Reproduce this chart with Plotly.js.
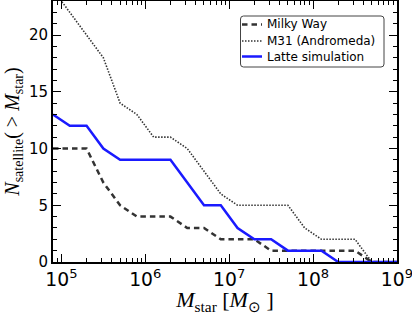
<!DOCTYPE html>
<html>
<head>
<meta charset="utf-8">
<script src="https://cdn.plot.ly/plotly-3.0.1.min.js"></script>
<style>
html,body{margin:0;padding:0;background:#fff;}
#chart{width:412px;height:315px;}
</style>
</head>
<body>
<div id="chart"></div>
<script>
// log10 of stellar mass at which the cumulative counts are evaluated
var logMass = [4.9, 5.1, 5.3, 5.5, 5.7, 5.9, 6.1, 6.3, 6.5, 6.7, 6.9, 7.1, 7.3, 7.5, 7.7, 7.9, 8.1, 8.3, 8.5, 8.7, 8.9, 9.1];
var milkyWay = [10, 10, 10, 7, 5, 4, 4, 4, 3, 3, 2, 2, 2, 1, 1, 1, 1, 1, 1, 0, 0, 0];
var m31      = [24, 22, 20, 18, 14, 13, 11, 11, 10, 8, 6, 5, 5, 5, 5, 3, 2, 2, 2, 0, 0, 0];
var latte    = [13, 12, 12, 10, 9, 9, 9, 9, 7, 5, 5, 3, 2, 2, 1, 1, 1, 0, 0, 0, 0, 0];
var seriesNames = ['Milky Way', 'M31 (Andromeda)', 'Latte simulation'];

var mass = logMass.map(function(v){ return Math.pow(10, v); });

var styles = [
  {color: '#333333', width: 2.5, dash: '5.5px,4px'},
  {color: '#333333', width: 1.6, dash: '1.5px,1.5px'},
  {color: '#1a1aff', width: 2.5, dash: 'solid'}
];
var seriesData = [milkyWay, m31, latte];

var traces = seriesData.map(function(ys, i){
  return {x: mass, y: ys, name: seriesNames[i], mode: 'lines', line: styles[i], showlegend: false};
});

// plot-area geometry (pixels) used only to place the legend box
var L = 53, R = 15, T = 1, B = 53, W = 412, H = 315;
var pw = W - L - R, ph = H - T - B;
function px(x){ return (x - L) / pw; }
function py(y){ return (H - B - y) / ph; }

var box = {x0: 240.5, x1: 384, y0: 16, y1: 67, r: 3};
function boxPath(){
  var x0 = px(box.x0), x1 = px(box.x1), y0 = py(box.y0), y1 = py(box.y1);
  var rx = box.r / pw, ry = box.r / ph;
  return 'M' + (x0 + rx) + ',' + y0 +
    ' L' + (x1 - rx) + ',' + y0 + ' Q' + x1 + ',' + y0 + ' ' + x1 + ',' + (y0 - ry) +
    ' L' + x1 + ',' + (y1 + ry) + ' Q' + x1 + ',' + y1 + ' ' + (x1 - rx) + ',' + y1 +
    ' L' + (x0 + rx) + ',' + y1 + ' Q' + x0 + ',' + y1 + ' ' + x0 + ',' + (y1 + ry) +
    ' L' + x0 + ',' + (y0 - ry) + ' Q' + x0 + ',' + y0 + ' ' + (x0 + rx) + ',' + y0 + ' Z';
}
var rowsY = [24.5, 41, 56.5];
var shapes = [{type: 'path', xref: 'paper', yref: 'paper', path: boxPath(),
               fillcolor: '#fff', line: {color: '#444', width: 1}, layer: 'above'}];
var annotations = [];
seriesNames.forEach(function(n, i){
  shapes.push({type: 'line', xref: 'paper', yref: 'paper', layer: 'above',
    x0: px(242), x1: px(262), y0: py(rowsY[i]), y1: py(rowsY[i]),
    line: {color: styles[i].color, width: styles[i].width, dash: styles[i].dash}});
  annotations.push({xref: 'paper', yref: 'paper', x: px(265), y: py(rowsY[i]),
    xanchor: 'left', yanchor: 'middle', text: n, showarrow: false,
    font: {family: 'DejaVu Sans', size: 12, color: '#000'}});
});

var tickFont = {family: 'DejaVu Sans', size: 15, color: '#000'};
var layout = {
  width: W, height: H,
  margin: {l: L, r: R, t: T, b: B},
  paper_bgcolor: '#fff', plot_bgcolor: '#fff',
  showlegend: false,
  shapes: shapes,
  annotations: annotations,
  xaxis: {
    type: 'log', range: [4.9, 9.0005], dtick: 1, exponentformat: 'power',
    ticklabeloverflow: 'allow',
    showgrid: false, zeroline: false,
    showline: true, linecolor: '#000', linewidth: 2, mirror: 'allticks',
    ticks: 'inside', ticklen: 8, tickwidth: 1, tickcolor: '#000',
    minor: {ticks: 'inside', ticklen: 4, tickwidth: 1, tickcolor: '#000', dtick: 'D1', showgrid: false},
    tickfont: tickFont,
    title: {text: '<i>M</i><sub>star</sub> [<i>M</i><sub>⊙</sub> ]',
            font: {family: 'Liberation Serif', size: 22, color: '#000'}, standoff: 5}
  },
  yaxis: {
    range: [0, 23], dtick: 5, tick0: 0,
    showgrid: false, zeroline: false,
    showline: true, linecolor: '#000', linewidth: 2, mirror: 'allticks',
    ticks: 'inside', ticklen: 8, tickwidth: 1, tickcolor: '#000',
    minor: {ticks: 'inside', ticklen: 4, tickwidth: 1, tickcolor: '#000', dtick: 1, showgrid: false},
    tickfont: tickFont,
    title: {text: '<i>N</i><sub>satellite</sub>( > <i>M</i><sub>star</sub>)',
            font: {family: 'Liberation Serif', size: 20, color: '#000'}, standoff: 4}
  }
};

Plotly.newPlot('chart', traces, layout, {displayModeBar: false, staticPlot: true});
</script>
</body>
</html>
